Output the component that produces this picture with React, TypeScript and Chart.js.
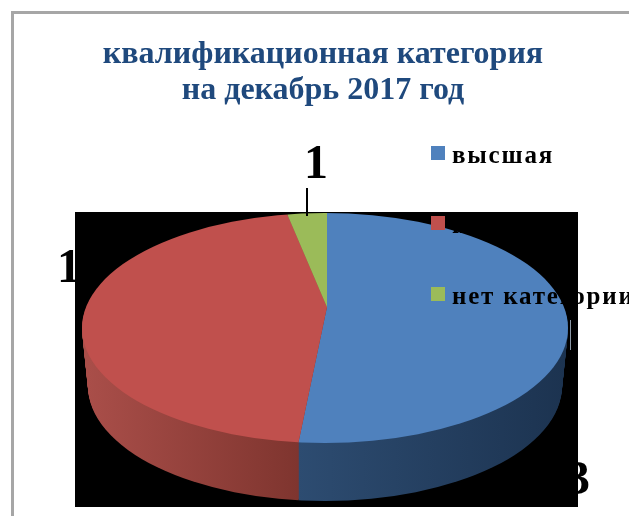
import React, { useEffect, useRef } from "react";
import { Chart, registerables } from "chart.js";

Chart.register(...registerables);

const categories = ["высшая", "первая", "нет категории"];
const values = [13, 11, 1];
const topColors = ["#4f81bd", "#c0504d", "#9bbb59"];
const titleLines = ["квалификационная категория", "на декабрь 2017 год"];

const SERIF = "'Liberation Serif', serif";

// picture geometry of the tilted pie
const apex = { x: 327, y: 307 };
const top = { x: 325, y: 328, rx: 243, ry: 115 };
const depth = 58;
const squash = 0.6;
const reach = 300;

const piePlugin = {
  id: "tiltedPie",
  beforeDraw(chart: any) {
    const ctx = chart.ctx;
    ctx.save();
    ctx.strokeStyle = "#a6a6a6";
    ctx.lineWidth = 3;
    ctx.beginPath();
    ctx.moveTo(12.5, 516);
    ctx.lineTo(12.5, 12.5);
    ctx.lineTo(629, 12.5);
    ctx.stroke();
    ctx.restore();
  },
  beforeDatasetsDraw(chart: any) {
    const ctx = chart.ctx;
    const arcs = chart.getDatasetMeta(0).data;
    const el = arcs[0];
    const s = reach / el.outerRadius;

    ctx.save();
    // value labels sit under the black plate
    ctx.fillStyle = "#000";
    ctx.font = `bold 48px ${SERIF}`;
    ctx.textBaseline = "alphabetic";
    ctx.textAlign = "center";
    ctx.fillText(String(values[2]), 316, 178);
    ctx.textAlign = "left";
    ctx.fillText(String(values[1]), 57, 282);
    ctx.textAlign = "right";
    ctx.fillText(String(values[0]), 590, 494);

    ctx.fillStyle = "#000";
    ctx.fillRect(75, 212, 503, 295);

    const place = (dy: number) => {
      ctx.translate(apex.x, apex.y + dy);
      ctx.scale(s, s * squash);
      ctx.translate(-el.x, -el.y);
    };
    const userX = (X: number) => (X - apex.x) / s + el.x;

    // side wall: the same arcs, repeated downward in a darker paint
    const wallStops = [
      ["#2d4c71", "#1c3350"],
      ["#a94e49", "#7f352f"],
      ["#6f8740", "#6f8740"],
    ];
    const walls = arcs.map((_: any, i: number) => {
      const g = ctx.createLinearGradient(
        i === 1 ? userX(88) : userX(298),
        0,
        i === 1 ? userX(298) : userX(566),
        0
      );
      g.addColorStop(0, wallStops[i][0]);
      g.addColorStop(1, wallStops[i][1]);
      return g;
    });
    for (let d = depth; d >= 1; d--) {
      const rx = top.rx - (6 * d) / depth;
      ctx.save();
      ctx.beginPath();
      ctx.ellipse(top.x, top.y + d, rx, top.ry, 0, 0, Math.PI * 2);
      ctx.clip();
      place(d);
      arcs.forEach((a: any, i: number) => {
        const o = a.options;
        a.options = { ...o, backgroundColor: walls[i] };
        a.draw(ctx);
        a.options = o;
      });
      ctx.restore();
    }

    // top face
    ctx.save();
    ctx.beginPath();
    ctx.ellipse(top.x, top.y, top.rx, top.ry, 0, 0, Math.PI * 2);
    ctx.clip();
    place(0);
    arcs.forEach((a: any) => a.draw(ctx));
    ctx.restore();

    // leader lines
    ctx.strokeStyle = "#000";
    ctx.lineWidth = 2;
    ctx.beginPath();
    ctx.moveTo(307, 188);
    ctx.lineTo(307, 216);
    ctx.stroke();
    ctx.strokeStyle = "#8a97a6";
    ctx.lineWidth = 1;
    ctx.beginPath();
    ctx.moveTo(570.5, 320);
    ctx.lineTo(570.5, 350);
    ctx.stroke();

    // legend
    const rowY = [146, 216, 287];
    categories.forEach((c, i) => {
      ctx.fillStyle = topColors[i];
      ctx.fillRect(431, rowY[i], 14, 14);
      ctx.fillStyle = "#000";
      ctx.font = `bold 25px ${SERIF}`;
      (ctx as any).letterSpacing = "1.8px";
      ctx.textAlign = "left";
      ctx.fillText(c, 452, rowY[i] + 17);
    });
    ctx.restore();
    return false;
  },
};

export default function App() {
  const ref = useRef<HTMLCanvasElement>(null);
  useEffect(() => {
    document.body.style.margin = "0";
    document.body.style.background = "#fff";
    const chart = new Chart(ref.current!, {
      type: "pie",
      data: {
        labels: categories,
        datasets: [{ data: values, backgroundColor: topColors, borderWidth: 0 }],
      },
      options: {
        animation: false,
        responsive: false,
        devicePixelRatio: 1,
        layout: { padding: { left: 17 } },
        plugins: {
          legend: { display: false },
          tooltip: { enabled: false },
          title: {
            display: true,
            text: titleLines,
            color: "#1f497d",
            font: { family: SERIF, size: 32, weight: "bold", lineHeight: 1.125 },
            padding: { top: 37, bottom: 10 },
          },
        },
      },
      plugins: [piePlugin],
    } as any);
    return () => chart.destroy();
  }, []);
  return (
    <canvas
      ref={ref}
      width={629}
      height={516}
      style={{ display: "block", width: 629, height: 516, background: "#fff" }}
    />
  );
}
